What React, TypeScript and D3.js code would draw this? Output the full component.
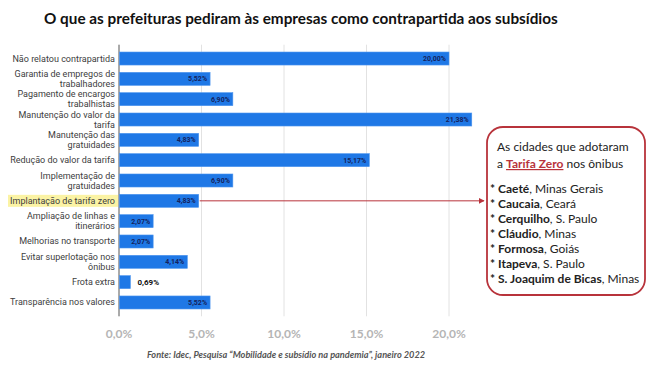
import React from 'react'
import * as d3 from 'd3'

const categories = [
  'Não relatou contrapartida',
  'Garantia de empregos de\ntrabalhadores',
  'Pagamento de encargos\ntrabalhistas',
  'Manutenção do valor da\ntarifa',
  'Manutenção das\ngratuidades',
  'Redução do valor da tarifa',
  'Implementação de\ngratuidades',
  'Implantação de tarifa zero',
  'Ampliação de linhas e\nitinerários',
  'Melhorias no transporte',
  'Evitar superlotação nos\nônibus',
  'Frota extra',
  'Transparência nos valores'
]
const values = [20.0, 5.52, 6.9, 21.38, 4.83, 15.17, 6.9, 4.83, 2.07, 2.07, 4.14, 0.69, 5.52]
const ticks = [0, 5, 10, 15, 20]
const highlighted = 'Implantação de tarifa zero'

const cities = [
  ['Caeté', ', Minas Gerais'],
  ['Caucaia', ', Ceará'],
  ['Cerquilho', ', S. Paulo'],
  ['Cláudio', ', Minas'],
  ['Formosa', ', Goiás'],
  ['Itapeva', ', S. Paulo'],
  ['S. Joaquim de Bicas', ',  Minas']
]

const title = 'O que as prefeituras pediram às empresas como contrapartida aos subsídios'
const source = 'Fonte: Idec, Pesquisa “Mobilidade e subsídio na pandemia”, janeiro 2022'

const W = 650
const H = 365
const BLUE = '#1f78e6'
const RED = '#b8333b'

const ptBR = d3.formatLocale({ decimal: ',', thousands: '.', grouping: [3], currency: ['R$', ''] })
const fmtValue = ptBR.format('.2f')
const fmtTick = ptBR.format('.1f')

export default function App() {
  const x = d3.scaleLinear().domain([0, 20]).range([119, 449])
  const y = d3.scaleBand<string>()
    .domain(categories)
    .range([44.7, 316.3])
    .padding(0.36)

  const bw = y.bandwidth()
  const hy = y(highlighted)! + bw / 2

  return (
    <div style={{ position: 'fixed', left: 0, top: 0 }}>
      <svg width={W} height={H} style={{ display: 'block', background: '#fff' }}>
        <text x={44} y={24} fontFamily="Lato" fontWeight="bold" fontSize={15.3} fill="#111">{title}</text>

        {/* grid */}
        <g>
          {ticks.slice(1).map(t => (
            <line key={t} x1={x(t)} x2={x(t)} y1={44.7} y2={316.3} stroke="#e2e2e2" strokeWidth={1} />
          ))}
          <line x1={x(0)} x2={x(0)} y1={44.7} y2={316.3} stroke="#555" strokeWidth={1} />
        </g>

        {/* highlight behind label */}
        <rect x={8} y={hy - 6} width={110} height={12} fill="#fbf3a4" />

        {/* category labels */}
        <g fontFamily="Roboto" fontSize={9} fill="#404040" textAnchor="end">
          {categories.map(c => {
            const lines = c.split('\n')
            const cy = y(c)! + bw / 2
            return (
              <text key={c} x={115} y={cy}>
                {lines.map((l, i) => (
                  <tspan key={i} x={115} y={cy + 3 + (i - (lines.length - 1) / 2) * 10}>{l}</tspan>
                ))}
              </text>
            )
          })}
        </g>

        {/* bars */}
        <g>
          {categories.map((c, i) => (
            <rect key={c} x={x(0) + 0.5} y={y(c)} width={x(values[i]) - x(0) - 0.5} height={bw} fill={BLUE} stroke="#4d95ee" strokeWidth={0.6} />
          ))}
        </g>

        {/* value labels */}
        <g fontFamily="Roboto" fontWeight="bold">
          {categories.map((c, i) => {
            const end = x(values[i])
            const cy = y(c)! + bw / 2
            const inside = end - x(0) > 30
            return inside ? (
              <text key={c} x={end - 3} y={cy + 2.5} textAnchor="end" fontSize={7} fill="#15225c">{fmtValue(values[i])}%</text>
            ) : (
              <text key={c} x={end + 7} y={cy + 3} fontSize={8} fill="#111">{fmtValue(values[i])}%</text>
            )
          })}
        </g>

        {/* x tick labels */}
        <g fontFamily="Lato" fontWeight="bold" fontSize={12} fill="#b5b5b5" textAnchor="middle">
          {ticks.map(t => (
            <text key={t} x={x(t)} y={338}>{fmtTick(t)}%</text>
          ))}
        </g>

        <text x={286} y={358} textAnchor="middle" fontFamily="Lato" fontStyle="italic" fontWeight="bold" fontSize={9.2} fill="#555">{source}</text>

        {/* arrow to box */}
        <defs>
          <marker id="arr" viewBox="0 0 10 10" refX={9} refY={5} markerWidth={6} markerHeight={6} orient="auto">
            <path d="M0,0 L10,5 L0,10 z" fill={RED} />
          </marker>
        </defs>
        <line x1={x(values[7]) + 1} x2={484} y1={hy} y2={hy} stroke={RED} strokeWidth={1} markerEnd="url(#arr)" />

        {/* annotation box */}
        <rect x={487} y={127} width={158} height={168} rx={16} fill="#fff" stroke={RED} strokeWidth={1.8} />
        <g fontFamily="Lato" fontSize={12} fill="#222">
          <text x={497} y={151}>As cidades que adotaram</text>
          <text x={497} y={168}>
            a <tspan fill={RED} fontWeight="bold" textDecoration="underline">Tarifa Zero</tspan> nos ônibus
          </text>
          {cities.map((cty, i) => (
            <text key={cty[0]} x={490} y={193 + i * 15}>
              <tspan fontWeight="bold">* {cty[0]}</tspan>{cty[1]}
            </text>
          ))}
        </g>
      </svg>
    </div>
  )
}
